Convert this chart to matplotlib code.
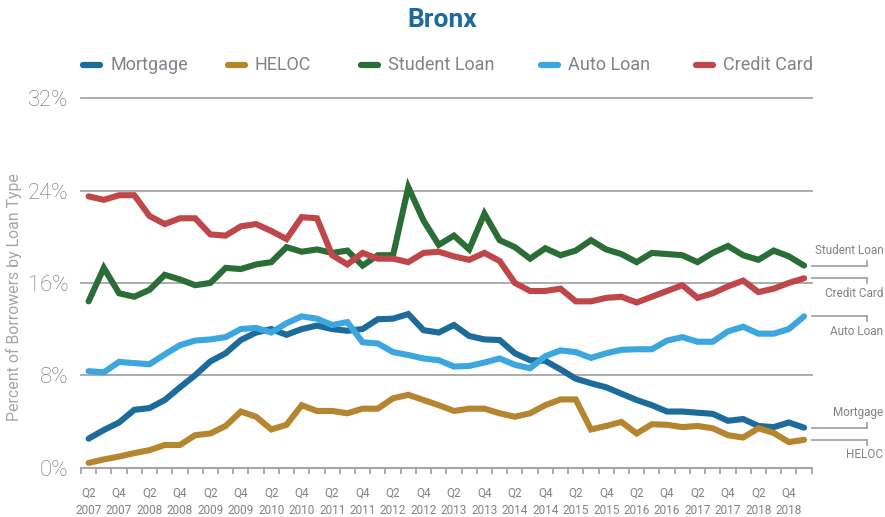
import matplotlib
matplotlib.use('Agg')
import matplotlib.pyplot as plt
from matplotlib.lines import Line2D

plt.rcParams['font.family'] = ['Roboto', 'DejaVu Sans']

quarters = []
for year in range(2007, 2020):
    for q in range(1, 5):
        if (year == 2007 and q == 1) or (year == 2019 and q > 1):
            continue
        quarters.append(f'Q{q}\n{year}')

mortgage = [2.5, 3.25, 3.9, 5.0, 5.15, 5.85, 6.95, 8.0, 9.2, 9.9, 11.05, 11.7,
            12.0, 11.5, 12.0, 12.3, 12.0, 11.85, 12.0, 12.85, 12.9, 13.3, 11.9, 11.7,
            12.35, 11.4, 11.1, 11.05, 9.9, 9.3, 9.25, 8.5, 7.7, 7.3, 6.95, 6.4,
            5.85, 5.4, 4.85, 4.85, 4.75, 4.65, 4.05, 4.2, 3.6, 3.5, 3.9, 3.45]
heloc = [0.4, 0.7, 0.95, 1.25, 1.5, 1.95, 1.95, 2.8, 2.95, 3.6, 4.85, 4.4,
         3.3, 3.7, 5.4, 4.9, 4.9, 4.7, 5.1, 5.1, 6.0, 6.3, 5.85, 5.4,
         4.9, 5.1, 5.1, 4.7, 4.4, 4.7, 5.4, 5.9, 5.9, 3.3, 3.6, 3.95,
         2.95, 3.75, 3.7, 3.5, 3.6, 3.4, 2.8, 2.6, 3.4, 3.0, 2.2, 2.4]
student = [14.4, 17.3, 15.1, 14.8, 15.4, 16.7, 16.3, 15.8, 16.0, 17.3, 17.2, 17.6,
           17.8, 19.1, 18.7, 18.9, 18.6, 18.8, 17.5, 18.4, 18.4, 24.3, 21.4, 19.3,
           20.1, 18.9, 22.0, 19.7, 19.1, 18.1, 19.0, 18.4, 18.8, 19.7, 18.9, 18.5,
           17.8, 18.6, 18.5, 18.4, 17.8, 18.6, 19.2, 18.4, 18.0, 18.8, 18.3, 17.5]
auto = [8.35, 8.25, 9.15, 9.05, 8.95, 9.8, 10.6, 11.0, 11.1, 11.3, 12.0, 12.1,
        11.7, 12.5, 13.1, 12.9, 12.35, 12.6, 10.85, 10.75, 10.0, 9.75, 9.45, 9.3,
        8.75, 8.8, 9.1, 9.45, 8.9, 8.6, 9.65, 10.15, 10.0, 9.5, 9.9, 10.2,
        10.25, 10.25, 11.0, 11.3, 10.9, 10.9, 11.8, 12.2, 11.6, 11.6, 12.0, 13.1]
credit = [23.5, 23.2, 23.6, 23.6, 21.8, 21.1, 21.6, 21.6, 20.2, 20.1, 20.9, 21.1,
          20.5, 19.8, 21.7, 21.6, 18.4, 17.6, 18.6, 18.1, 18.1, 17.8, 18.6, 18.7,
          18.3, 18.0, 18.6, 17.9, 16.0, 15.3, 15.3, 15.5, 14.4, 14.4, 14.7, 14.8,
          14.3, 14.8, 15.3, 15.8, 14.7, 15.1, 15.7, 16.2, 15.2, 15.5, 16.0, 16.4]

series = [('Mortgage', mortgage, '#1c6b9b'),
          ('HELOC', heloc, '#b5862f'),
          ('Student Loan', student, '#2a6d36'),
          ('Auto Loan', auto, '#3ba7de'),
          ('Credit Card', credit, '#bf474a')]

W, H = 885, 517
def fx(px):
    return px / W
def fy(py):
    return 1 - py / H

gray = '#7f848a'
grid = '#a4a6a9'

fig = plt.figure(figsize=(W / 100, H / 100), dpi=100)
ax = fig.add_axes([fx(81), fy(467.5), (811.7 - 81) / W, (467.5 - 98.3) / H])

x = list(range(len(quarters)))
for name, vals, color in series:
    ax.plot(x, vals, color=color, lw=4.4, solid_capstyle='round',
            solid_joinstyle='miter', clip_on=False, zorder=3)

ax.set_xlim(-0.5, len(quarters) - 0.5)
ax.set_ylim(0, 32)
for v in [8, 16, 24, 32]:
    ax.axhline(v, color=grid, lw=1.3, clip_on=False, zorder=1)

for s in ['top', 'right', 'left']:
    ax.spines[s].set_visible(False)
ax.spines['bottom'].set_color(grid)
ax.spines['bottom'].set_linewidth(1.5)

ax.set_yticks([0, 8, 16, 24, 32])
ax.set_yticklabels(['0%', '8%', '16%', '24%', '32%'], fontweight='light')
ax.tick_params(axis='y', length=0, pad=9, labelsize=15.8, labelcolor='#6c7177')

ax.set_xticks(x[0::2])
ax.set_xticklabels(quarters[0::2], linespacing=1.45)
ax.set_xticks([i - 0.5 for i in range(len(quarters) + 1)], minor=True)
ax.tick_params(axis='x', which='major', length=0, pad=14, labelsize=8.5,
               labelcolor=gray)
ax.tick_params(axis='x', which='minor', length=4.5, width=1.3, color=grid)

fig.text(fx(14), fy(297), 'Percent of Borrowers by Loan Type', rotation=90,
         ha='center', va='center', fontsize=11.4, color='#a2a6ab')

fig.text(fx(442), fy(20), 'Bronx', ha='center', va='center', fontsize=19,
         fontweight='bold', color='#1d6a9e')

legend_x = [80, 225, 358, 538, 693]
for (name, vals, color), lx in zip(series, legend_x):
    fig.add_artist(Line2D([fx(lx + 3), fx(lx + 20)], [fy(65), fy(65)], color=color,
                          lw=4.5, solid_capstyle='round'))
    fig.text(fx(lx + 30), fy(65), name, ha='left', va='center', fontsize=13,
             color=gray)

# end-of-line callouts on the right
px_x = 15.22
px_y = 11.54
x_end = (867 - 81) / px_x - 0.5
x_lab = (883 - 81) / px_x - 0.5
side = {'Mortgage': 1, 'HELOC': -1, 'Student Loan': 1, 'Auto Loan': -1, 'Credit Card': -1}
for name, vals, color in series:
    v = vals[-1]
    d = side[name]
    ax.plot([len(quarters) - 0.45, x_end], [v, v], color=grid, lw=1.3,
            clip_on=False, zorder=2)
    ax.plot([x_end, x_end], [v, v + d * 5 / px_y], color=grid, lw=1.3,
            clip_on=False, zorder=2)
    ax.text(x_lab, v + d * 15 / px_y, name, ha='right', va='center',
            fontsize=8.5, color=gray, clip_on=False)

fig.savefig('out.png', dpi=100)
